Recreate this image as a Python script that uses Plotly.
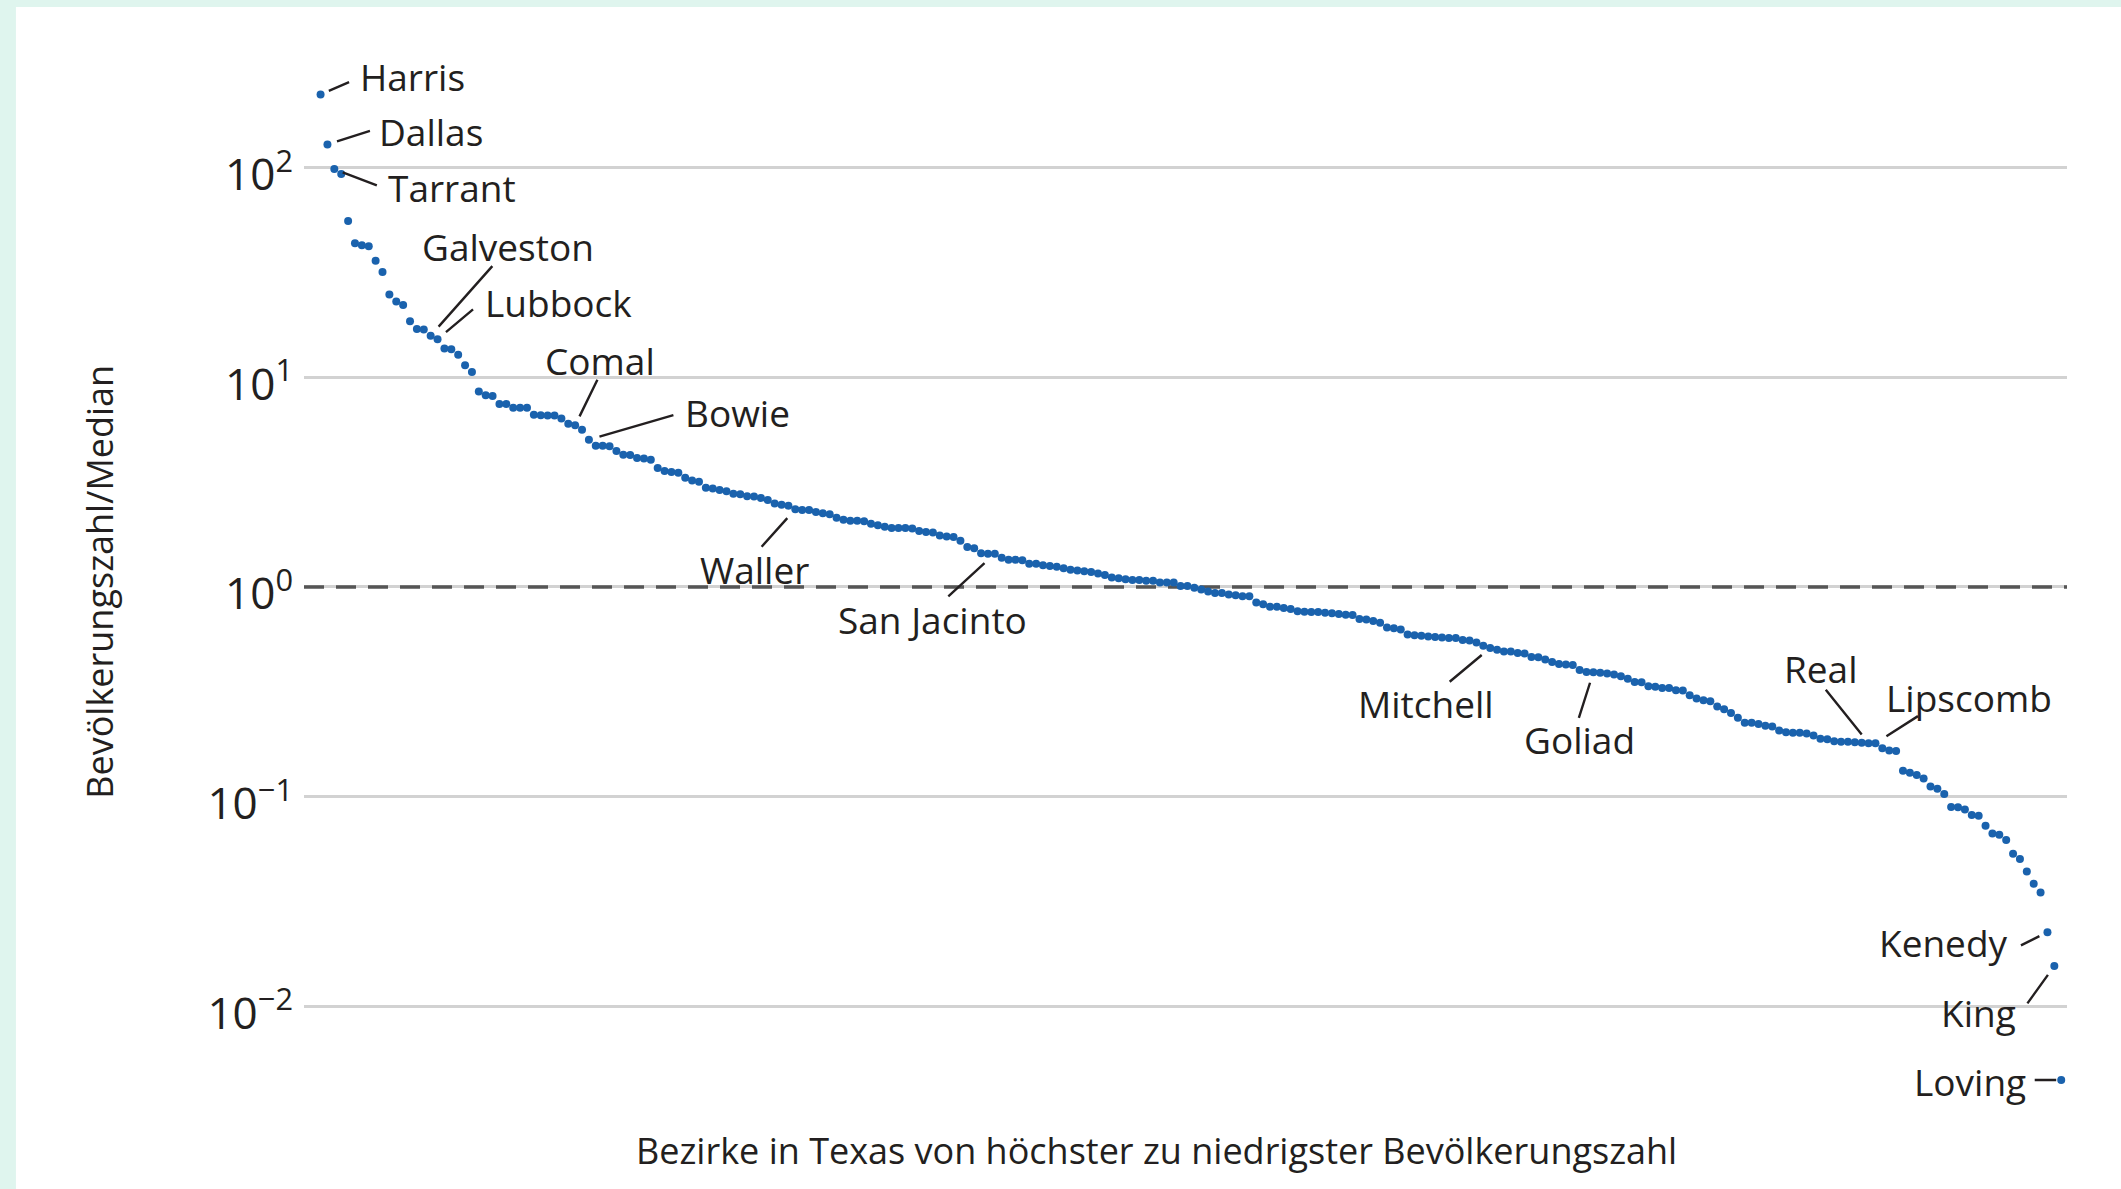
import math
import plotly.graph_objects as go

# Texas counties, 2010, sorted from highest to lowest population
counties = [
    "Harris", "Dallas", "Tarrant", "Bexar", "Travis", "El Paso", "Collin", "Hidalgo", "Denton", "Fort Bend",
    "Montgomery", "Williamson", "Cameron", "Nueces", "Brazoria", "Bell", "Galveston", "Lubbock", "Jefferson", "Webb",
    "McLennan", "Smith", "Brazos", "Hays", "Johnson", "Ellis", "Ector", "Midland", "Guadalupe", "Taylor",
    "Wichita", "Gregg", "Potter", "Grayson", "Randall", "Parker", "Tom Green", "Comal", "Kaufman", "Bowie",
    "Victoria", "Angelina", "Hunt", "Orange", "Henderson", "Rockwall", "Liberty", "Coryell", "Bastrop", "Walker",
    "Harrison", "San Patricio", "Nacogdoches", "Starr", "Wise", "Anderson", "Hardin", "Maverick", "Rusk", "Van Zandt",
    "Hood", "Cherokee", "Lamar", "Kerr", "Val Verde", "Navarro", "Medina", "Polk", "Atascosa", "Waller",
    "Wilson", "Burnet", "Wood", "Wharton", "Jim Wells", "Upshur", "Cooke", "Brown", "Caldwell", "Erath",
    "Matagorda", "Hale", "Jasper", "Hopkins", "Chambers", "Hill", "Howard", "Fannin", "Washington", "Kendall",
    "Titus", "Kleberg", "Bee", "Cass", "Austin", "Palo Pinto", "Grimes", "Uvalde", "San Jacinto", "Shelby",
    "Gillespie", "Milam", "Fayette", "Panola", "Houston", "Limestone", "Aransas", "Hockley", "Gray", "Hutchinson",
    "Willacy", "Moore", "Tyler", "Calhoun", "Colorado", "Bandera", "Jones", "DeWitt", "Freestone", "Gonzales",
    "Montague", "Lampasas", "Deaf Smith", "Llano", "Lavaca", "Eastland", "Young", "Bosque", "Falls", "Gaines",
    "Frio", "Burleson", "Scurry", "Leon", "Robertson", "Lee", "Pecos", "Nolan", "Karnes", "Andrews",
    "Trinity", "Newton", "Jackson", "Zapata", "Lamb", "Comanche", "Dawson", "Reeves", "Madison", "Callahan",
    "Wilbarger", "Morris", "Red River", "Terry", "Camp", "Duval", "Zavala", "Live Oak", "Rains", "Sabine",
    "Clay", "Ward", "Franklin", "Marion", "Runnels", "Blanco", "Parmer", "Ochiltree", "Dimmit", "Stephens",
    "Mitchell", "Brewster", "Archer", "Jack", "Coleman", "San Augustine", "Hamilton", "Somervell", "McCulloch", "Castro",
    "Yoakum", "Swisher", "Presidio", "Refugio", "Brooks", "Goliad", "Bailey", "Winkler", "Childress", "La Salle",
    "Dallam", "Garza", "Floyd", "Carson", "San Saba", "Hartley", "Crosby", "Lynn", "Haskell", "Hansford",
    "Wheeler", "Jim Hogg", "Delta", "Mills", "Martin", "Kimble", "Crane", "Hardeman", "Sutton", "Concho",
    "Mason", "Fisher", "Hemphill", "Baylor", "Knox", "Crockett", "Donley", "Kinney", "Hudspeth", "Schleicher",
    "Shackelford", "Reagan", "Upton", "Hall", "Coke", "Real", "Lipscomb", "Cochran", "Collingsworth", "Sherman",
    "Dickens", "Culberson", "Jeff Davis", "Menard", "Oldham", "Edwards", "Armstrong", "Throckmorton", "Briscoe", "Irion",
    "Cottle", "Stonewall", "Foard", "Glasscock", "Motley", "Sterling", "Terrell", "Roberts", "Kent", "McMullen",
    "Borden", "Kenedy", "King", "Loving",
]

# population / median population
ratio = [
    223, 129, 98.4, 93.3, 55.7, 43.6, 42.6, 42.2, 36.0, 31.8,
    24.8, 23.0, 22.1, 18.5, 17.0, 16.9, 15.8, 15.2, 13.7, 13.6,
    12.8, 11.4, 10.6, 8.55, 8.21, 8.14, 7.46, 7.45, 7.16, 7.15,
    7.15, 6.62, 6.59, 6.58, 6.57, 6.36, 6.00, 5.90, 5.62, 5.04,
    4.72, 4.72, 4.69, 4.45, 4.27, 4.26, 4.12, 4.10, 4.04, 3.69,
    3.57, 3.53, 3.51, 3.32, 3.22, 3.18, 2.97, 2.95, 2.90, 2.86,
    2.78, 2.77, 2.71, 2.70, 2.66, 2.60, 2.50, 2.47, 2.44, 2.35,
    2.33, 2.33, 2.28, 2.25, 2.22, 2.14, 2.09, 2.07, 2.07, 2.06,
    2.00, 1.97, 1.94, 1.91, 1.91, 1.91, 1.90, 1.85, 1.83, 1.82,
    1.76, 1.74, 1.73, 1.66, 1.55, 1.53, 1.45, 1.44, 1.44, 1.38,
    1.35, 1.35, 1.34, 1.29, 1.29, 1.27, 1.26, 1.25, 1.23, 1.21,
    1.20, 1.19, 1.18, 1.16, 1.14, 1.11, 1.10, 1.09, 1.08, 1.08,
    1.07, 1.07, 1.05, 1.05, 1.05, 1.01, 1.01, 0.991, 0.972, 0.953,
    0.937, 0.935, 0.921, 0.914, 0.904, 0.904, 0.844, 0.828, 0.806, 0.804,
    0.793, 0.786, 0.766, 0.763, 0.760, 0.760, 0.753, 0.750, 0.743, 0.737,
    0.736, 0.704, 0.700, 0.688, 0.675, 0.641, 0.635, 0.627, 0.594, 0.589,
    0.585, 0.580, 0.577, 0.574, 0.571, 0.571, 0.559, 0.556, 0.544, 0.524,
    0.512, 0.502, 0.493, 0.492, 0.484, 0.482, 0.463, 0.462, 0.451, 0.439,
    0.429, 0.427, 0.425, 0.402, 0.393, 0.392, 0.390, 0.387, 0.383, 0.375,
    0.365, 0.352, 0.351, 0.336, 0.334, 0.330, 0.330, 0.322, 0.321, 0.305,
    0.294, 0.288, 0.285, 0.269, 0.261, 0.251, 0.238, 0.225, 0.225, 0.222,
    0.218, 0.216, 0.207, 0.203, 0.202, 0.202, 0.200, 0.196, 0.189, 0.188,
    0.184, 0.183, 0.183, 0.182, 0.181, 0.180, 0.180, 0.170, 0.166, 0.165,
    0.133, 0.130, 0.127, 0.122, 0.112, 0.109, 0.103, 0.0893, 0.0891, 0.0870,
    0.0819, 0.0811, 0.0727, 0.0667, 0.0658, 0.0622, 0.0535, 0.0505, 0.0440, 0.0385,
    0.0349, 0.0226, 0.0156, 0.00446,
]

median_ratio = 1
tick_vals = [0.01, 0.1, 1, 10, 100]
tick_text = ["10<sup>\u22122</sup>", "10<sup>\u22121</sup>", "10<sup>0</sup>", "10<sup>1</sup>", "10<sup>2</sup>"]

x_title = "Bezirke in Texas von höchster zu niedrigster Bevölkerungszahl"
y_title = "Bevölkerungszahl/Median"

# labelled counties: name, gap at dot, leader end (dx, dy px, down +), text offset (dx, dy px, up +), anchor
labels = [
    ("Harris", 9, 30, -13, 37, 18, "left"),
    ("Dallas", 10, 44, -14, 50, 13, "left"),
    ("Tarrant", 9, 44, 17, 52, -18, "left"),
    ("Galveston", 12, 63, -71, -11, 89, "left"),
    ("Lubbock", 11, 37, -31, 45, 37, "left"),
    ("Comal", 10, 23, -47, -32, 65, "left"),
    ("Bowie", 11, 86, -25, 94, 27, "left"),
    ("Waller", 12, -35, 39, -97, -60, "left"),
    ("San Jacinto", 14, -48, 44, -159, -66, "left"),
    ("Mitchell", 11, -42, 35, -134, -56, "left"),
    ("Goliad", 11, -15, 47, -71, -67, "left"),
    ("Real", 11, -44, -55, -87, 75, "left"),
    ("Lipscomb", 13, 44, -28, 9, 46, "left"),
    ("Kenedy", 9, -28, 14, -37, -10, "right"),
    ("King", 11, -28, 39, -36, -47, "right"),
    ("Loving", 5, -28, 0, -33, -2, "right"),
]

BLUE = "#1a62ad"
TEXT = "#231f20"
MINT = "#dff5ee"
ANN_FONT = dict(family="Open Sans, Liberation Sans, sans-serif", size=37, color=TEXT)
TICK_FONT = dict(family="Open Sans, Liberation Sans, sans-serif", size=44, color=TEXT)
TITLE_FONT = dict(family="Open Sans, Liberation Sans, sans-serif", size=36, color=TEXT)

rank = list(range(1, len(counties) + 1))
x_range = [-1.41, 254.84]

fig = go.Figure()
# reference line at the median
fig.add_trace(go.Scatter(
    x=x_range, y=[median_ratio, median_ratio], mode="lines",
    line=dict(color="#555555", width=3.5, dash="20px,12px"),
    hoverinfo="skip", showlegend=False,
))
fig.add_trace(go.Scatter(
    x=rank, y=ratio, mode="markers",
    marker=dict(size=8, color=BLUE),
    text=counties, hoverinfo="text", showlegend=False,
))

annotations = []
for name, gap, lx, ly, tx, ty, anch in labels:
    i = counties.index(name)
    xv, yv = rank[i], math.log10(ratio[i])
    # leader line (arrow without head, no text)
    annotations.append(dict(
        x=xv, y=yv, xref="x", yref="y", text="", showarrow=True,
        ax=lx, ay=ly, arrowhead=0, arrowwidth=2.4, arrowcolor=TEXT,
        standoff=gap, font=dict(size=1),
    ))
    annotations.append(dict(
        x=xv, y=yv, xref="x", yref="y", text=name, showarrow=False,
        xanchor=anch, yanchor="middle", xshift=tx, yshift=ty, font=ANN_FONT,
    ))

annotations.append(dict(
    x=0.4833, y=-0.039, xref="paper", yref="paper", text=x_title, showarrow=False,
    xanchor="center", yanchor="middle", font=TITLE_FONT,
))
annotations.append(dict(
    x=-0.1157, y=0.5031, xref="paper", yref="paper", text=y_title, showarrow=False,
    xanchor="center", yanchor="middle", textangle=-90, font=TITLE_FONT,
))

shapes = [
    # white card on the mint page
    dict(type="rect", xref="paper", yref="paper", x0=-0.1634, x1=1.06, y0=-0.2, y1=1.0505,
         fillcolor="white", line=dict(width=0), layer="below"),
]

fig.update_layout(
    width=2121, height=1189,
    margin=dict(l=304, r=54, t=60, b=79),
    paper_bgcolor=MINT, plot_bgcolor="rgba(0,0,0,0)",
    annotations=annotations, shapes=shapes,
    xaxis=dict(range=x_range, showgrid=False, zeroline=False,
               showticklabels=False, ticks="", showline=False),
    yaxis=dict(type="log", range=[-2.494, 2.513], tickvals=tick_vals, ticktext=tick_text,
               showgrid=True, gridcolor="#d2d2d2", gridwidth=2.5, ticks="",
               showline=False, zeroline=False, tickfont=TICK_FONT,
               ticklabelstandoff=10, ticklabelshift=7),
)

fig.write_html(
    "out.html",
    config={"displayModeBar": False},
    post_script="document.body.style.margin='0';document.body.style.background='%s';" % MINT,
)
